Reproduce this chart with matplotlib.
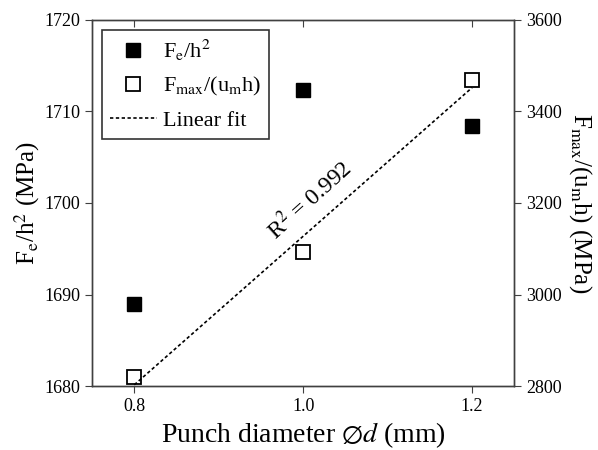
import numpy as np
import matplotlib
matplotlib.use("Agg")
import matplotlib.pyplot as plt

# Data
diameter = [0.8, 1.0, 1.2]
fe_h2 = [1689.0, 1712.3, 1708.4]
fmax_umh = [2820, 3093, 3469]

plt.rcParams['font.family'] = ['Liberation Serif', 'DejaVu Serif']
plt.rcParams['mathtext.fontset'] = 'stix'

axcol = '#404040'

fig = plt.figure(figsize=(5.98, 4.5), dpi=100)
ax = fig.add_axes([0.154, 0.142, 0.706, 0.814])
ax2 = ax.twinx()

# linear fit of right-axis data
coef = np.polyfit(diameter, fmax_umh, 1)
fitx = np.array([diameter[0], diameter[-1]])
fity = np.polyval(coef, fitx)
pred = np.polyval(coef, diameter)
ss_res = np.sum((np.array(fmax_umh) - pred) ** 2)
ss_tot = np.sum((np.array(fmax_umh) - np.mean(fmax_umh)) ** 2)
r2 = 1 - ss_res / ss_tot

h1, = ax.plot(diameter, fe_h2, 's', color='black', markersize=9.5, linestyle='none',
              label=r'F$_\mathrm{e}$/h$^2$')
h2, = ax2.plot(diameter, fmax_umh, 's', markerfacecolor='white', markeredgecolor='black',
               markeredgewidth=1.3, markersize=9.5, linestyle='none',
               label=r'F$_\mathrm{max}$/(u$_\mathrm{m}$h)')
h3, = ax2.plot(fitx, fity, linestyle=(0, (2, 1.5)), color='black', linewidth=1.2,
               label='Linear fit')
ax2.text(1.008, 3207, r'R$^2$ = %.3f' % r2, rotation=42, fontsize=17,
         ha='center', va='center', rotation_mode='anchor')

ax.set_xlim(0.75, 1.25)
ax.set_ylim(1680, 1720)
ax2.set_ylim(2800, 3600)
ax.set_xticks([0.8, 1.0, 1.2])
ax.set_xticklabels(['0.8', '1.0', '1.2'])
ax.set_yticks([1680, 1690, 1700, 1710, 1720])
ax2.set_yticks([2800, 3000, 3200, 3400, 3600])

ax.set_xlabel(r'Punch diameter $\emptyset d$ (mm)', fontsize=20, labelpad=4)
ax.set_ylabel(r'F$_\mathrm{e}$/h$^2$ (MPa)', fontsize=18, labelpad=2)
ax2.set_ylabel(r'F$_\mathrm{max}$/(u$_\mathrm{m}$h) (MPa)', fontsize=18,
               rotation=270, labelpad=23)

for a in (ax, ax2):
    for s in a.spines.values():
        s.set_color(axcol)
        s.set_linewidth(1.0)
ax.tick_params(axis='x', direction='out', length=5, color=axcol, labelsize=13)
ax.tick_params(axis='y', direction='out', length=5, color=axcol, labelsize=13)
ax2.tick_params(axis='y', direction='out', length=5, color=axcol, labelsize=13)
# inward ticks on the top edge
top = ax.secondary_xaxis('top')
top.set_xticks([0.8, 1.0, 1.2], labels=[])
top.tick_params(direction='in', length=5, color=axcol)
top.spines['top'].set_visible(False)

leg = ax.legend(handles=[h1, h2, h3], loc='upper left', fontsize=16,
                frameon=True, fancybox=False, edgecolor='black',
                borderaxespad=0.45, handlelength=2.1, handletextpad=0.3,
                labelspacing=0.55, borderpad=0.35)
leg.get_frame().set_linewidth(1.2)

fig.savefig('out.png', dpi=100)
